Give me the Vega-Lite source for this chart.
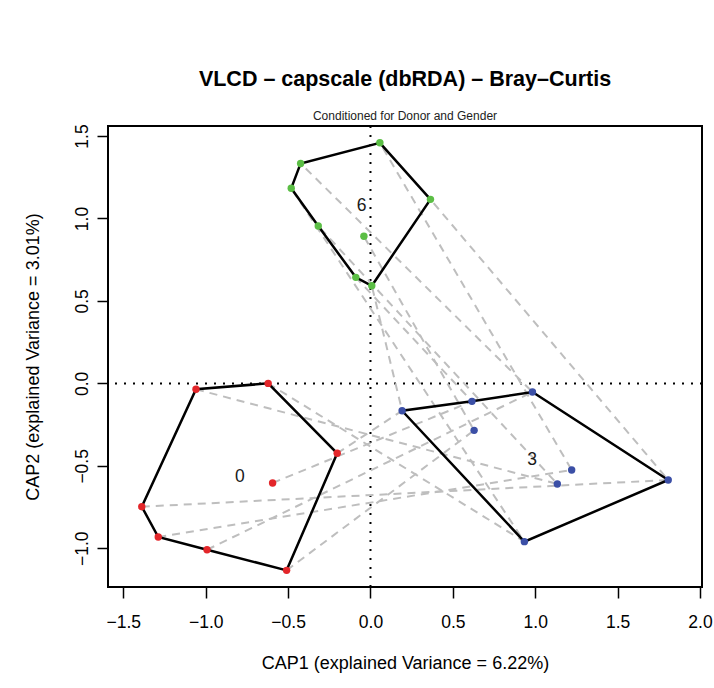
{
  "$schema": "https://vega.github.io/schema/vega-lite/v6.json",
  "width": 594,
  "height": 461,
  "autosize": "none",
  "padding": {"left": 108, "top": 126, "right": 12, "bottom": 101},
  "background": "white",
  "config": {"view": {"stroke": "black", "strokeWidth": 2}, "font": "Liberation Sans"},
  "title": {
    "text": "VLCD – capscale (dbRDA) – Bray–Curtis",
    "subtitle": "Conditioned for Donor and Gender",
    "font": "Liberation Sans",
    "fontSize": 21.5,
    "fontWeight": "bold",
    "color": "black",
    "subtitleFont": "Liberation Sans",
    "subtitleFontSize": 12,
    "subtitleColor": "#222222",
    "anchor": "middle",
    "offset": 2,
    "subtitlePadding": 20
  },
  "datasets": {
    "samples": [
      {"subject": "S1", "time": 0, "x": -1.059, "y": -0.036, "hull": 7},
      {"subject": "S2", "time": 0, "x": -0.621, "y": 0.0, "hull": 1},
      {"subject": "S3", "time": 0, "x": -0.202, "y": -0.424, "hull": 2},
      {"subject": "S4", "time": 0, "x": -0.594, "y": -0.604, "hull": null},
      {"subject": "S5", "time": 0, "x": -1.388, "y": -0.748, "hull": 6},
      {"subject": "S6", "time": 0, "x": -1.288, "y": -0.932, "hull": 5},
      {"subject": "S7", "time": 0, "x": -0.992, "y": -1.009, "hull": 4},
      {"subject": "S8", "time": 0, "x": -0.509, "y": -1.134, "hull": 3},
      {"subject": "S1", "time": 3, "x": 1.134, "y": -0.61, "hull": null},
      {"subject": "S2", "time": 3, "x": 0.934, "y": -0.96, "hull": 3},
      {"subject": "S3", "time": 3, "x": 0.192, "y": -0.166, "hull": 4},
      {"subject": "S4", "time": 3, "x": 0.616, "y": -0.109, "hull": 5},
      {"subject": "S5", "time": 3, "x": 1.807, "y": -0.586, "hull": 2},
      {"subject": "S6", "time": 3, "x": 1.221, "y": -0.525, "hull": null},
      {"subject": "S7", "time": 3, "x": 0.983, "y": -0.052, "hull": 1},
      {"subject": "S8", "time": 3, "x": 0.629, "y": -0.285, "hull": null},
      {"subject": "S1", "time": 6, "x": -0.317, "y": 0.954, "hull": 5},
      {"subject": "S2", "time": 6, "x": -0.481, "y": 1.183, "hull": 6},
      {"subject": "S3", "time": 6, "x": 0.008, "y": 0.592, "hull": 3},
      {"subject": "S4", "time": 6, "x": -0.089, "y": 0.643, "hull": 4},
      {"subject": "S5", "time": 6, "x": 0.364, "y": 1.116, "hull": 2},
      {"subject": "S6", "time": 6, "x": 0.057, "y": 1.459, "hull": 1},
      {"subject": "S7", "time": 6, "x": -0.424, "y": 1.334, "hull": 7},
      {"subject": "S8", "time": 6, "x": -0.04, "y": 0.892, "hull": null}
    ],
    "labels": [
      {"label": "0", "x": -0.792, "y": -0.566},
      {"label": "3", "x": 0.981, "y": -0.465},
      {"label": "6", "x": -0.054, "y": 1.075}
    ]
  },
  "layer": [
    {
      "data": {"values": [{"ref": 0}]},
      "mark": {"type": "rule", "color": "black", "strokeWidth": 2, "strokeDash": [2, 7]},
      "encoding": {
        "x": {"field": "ref", "type": "quantitative", "scale": {"domain": [-1.593, 2.012], "nice": false, "zero": false},
          "axis": {
            "values": [-1.5, -1.0, -0.5, 0.0, 0.5, 1.0, 1.5, 2.0],
            "format": ".1f",
            "domain": false,
            "grid": false,
            "tickSize": 11,
            "tickWidth": 1.5,
            "tickColor": "black",
            "labelFont": "Liberation Sans",
            "labelFontSize": 17.5,
            "labelColor": "black",
            "labelPadding": 15.5,
            "labelFlush": false,
            "labelOverlap": false,
            "title": "CAP1 (explained Variance = 6.22%)",
            "titleFont": "Liberation Sans",
            "titleFontSize": 18,
            "titleFontWeight": "normal",
            "titleColor": "black",
            "titleBaseline": "middle",
            "titleY": 76,
            "titleX": 297
          }
        }
      }
    },
    {
      "data": {"values": [{"ref": 0}]},
      "mark": {"type": "rule", "color": "black", "strokeWidth": 2, "strokeDash": [2, 7]},
      "encoding": {
        "y": {"field": "ref", "type": "quantitative", "scale": {"domain": [-1.235, 1.561], "nice": false, "zero": false},
          "axis": {
            "values": [-1.0, -0.5, 0.0, 0.5, 1.0, 1.5],
            "format": ".1f",
            "domain": false,
            "grid": false,
            "tickSize": 11,
            "tickWidth": 1.5,
            "tickColor": "black",
            "labelFont": "Liberation Sans",
            "labelFontSize": 17.5,
            "labelColor": "black",
            "labelAngle": -90,
            "labelAlign": "center",
            "labelBaseline": "alphabetic",
            "labelPadding": 10,
            "labelFlush": false,
            "labelOverlap": false,
            "title": "CAP2 (explained Variance = 3.01%)",
            "titleFont": "Liberation Sans",
            "titleFontSize": 18,
            "titleFontWeight": "normal",
            "titleColor": "black",
            "titleAngle": -90,
            "titleAlign": "center",
            "titleBaseline": "middle",
            "titleX": -75,
            "titleY": 230.5
          }
        }
      }
    },
    {
      "data": {"name": "samples"},
      "mark": {"type": "line", "color": "#bebebe", "strokeWidth": 2, "strokeDash": [8, 6]},
      "encoding": {
        "x": {"field": "x", "type": "quantitative"},
        "y": {"field": "y", "type": "quantitative"},
        "detail": {"field": "subject"},
        "order": {"field": "time"}
      }
    },
    {
      "data": {"name": "samples"},
      "transform": [{"filter": "datum.hull != null"}],
      "mark": {"type": "line", "color": "black", "strokeWidth": 2.5, "interpolate": "linear-closed"},
      "encoding": {
        "x": {"field": "x", "type": "quantitative"},
        "y": {"field": "y", "type": "quantitative"},
        "detail": {"field": "time"},
        "order": {"field": "hull"}
      }
    },
    {
      "data": {"name": "samples"},
      "mark": {"type": "circle", "size": 55, "opacity": 1},
      "encoding": {
        "x": {"field": "x", "type": "quantitative"},
        "y": {"field": "y", "type": "quantitative"},
        "color": {"field": "time", "type": "nominal", "legend": null,
          "scale": {"domain": [0, 3, 6], "range": ["#e3262a", "#3b4fa6", "#5bbe45"]}}
      }
    },
    {
      "data": {"name": "labels"},
      "mark": {"type": "text", "font": "Liberation Sans", "fontSize": 17.5, "color": "#1a1a1a", "baseline": "middle", "align": "center"},
      "encoding": {
        "x": {"field": "x", "type": "quantitative"},
        "y": {"field": "y", "type": "quantitative"},
        "text": {"field": "label"}
      }
    }
  ]
}
